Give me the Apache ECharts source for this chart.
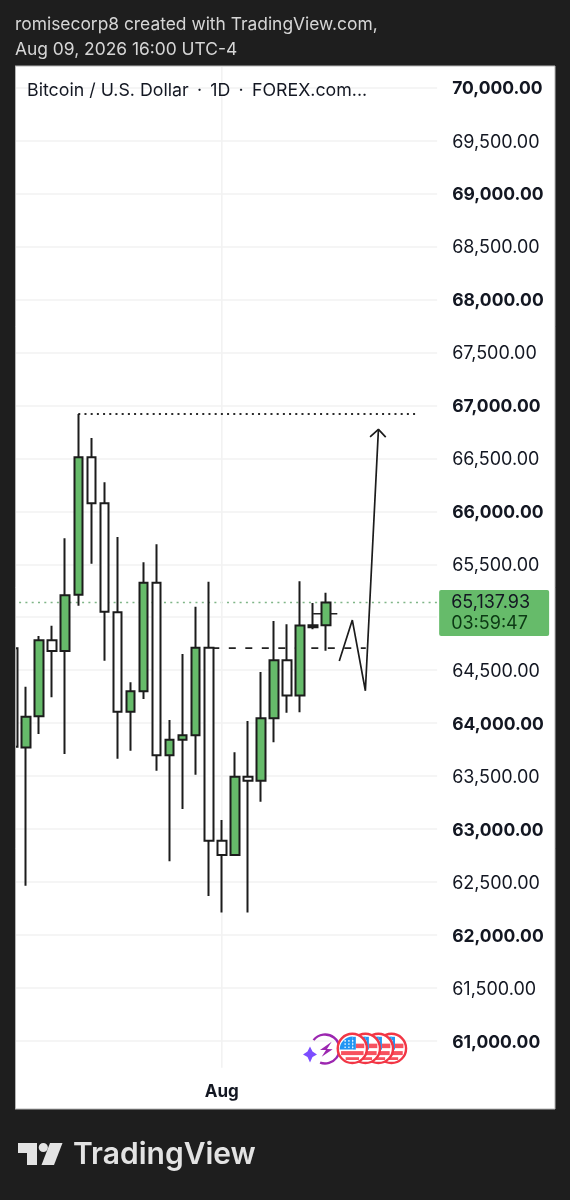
<!DOCTYPE html>
<html>
<head>
<meta charset="utf-8">
<style>html,body{margin:0;padding:0;background:#1e1e1e}#c{width:570px;height:1200px}</style>
<script src="https://cdn.jsdelivr.net/npm/echarts@6/dist/echarts.min.js"></script>
</head>
<body>
<div id="c"></div>
<script>
const headerLines = ['romisecorp8 created with TradingView.com,', 'Aug 09, 2026 16:00 UTC-4'];
const symbolTitle = 'Bitcoin / U.S. Dollar \u2009\u00b7\u2009 1D \u2009\u00b7\u2009 FOREX.com...';
const days = ['Jul 16','Jul 17','Jul 18','Jul 19','Jul 20','Jul 21','Jul 22','Jul 23','Jul 24','Jul 25','Jul 26','Jul 27','Jul 28','Jul 29','Jul 30','Jul 31','Aug','Aug 2','Aug 3','Aug 4','Aug 5','Aug 6','Aug 7','Aug 8','Aug 9','Aug 10','Aug 11','Aug 12','Aug 13','Aug 14','Aug 15','Aug 16','Aug 17'];
const opens  = [64706,63771,64064,64782,64681,65212,66510,66076,65046,64108,64300,65326,63696,63843,63885,64712,62890,62754,63494,63456,64045,64593,64262,64905,64925];
const closes = [63777,64060,64782,64681,65207,66510,66076,65052,64108,64300,65326,63696,63843,63885,64712,62890,62754,63494,63456,64045,64593,64262,64923,64925,65137.93];
const lows   = [63777,62464,63897,64244,63708,65109,65505,64589,63664,63739,64227,63550,62695,63189,63513,62367,62213,62754,62213,63258,63819,64098,64102,64886,64684];
const highs  = [64706,64344,64822,64920,65745,66919,66692,66274,65757,64385,65518,65688,64029,64652,65099,65335,63085,63724,64020,64482,64964,64933,65339,65134,65231];
const lastPrice = 65137.93;
const countdown = '03:59:47';
const resistance = [[5, 66919], [31.03, 66919]];
const support = [[15.27, 64708], [27.03, 64708]];
const shortLevel = [[23, 65033], [24.85, 65033]];
const pathDrawn = [[25, 64586], [26, 64973], [27, 64306], [28, 66774]];
const arrowHead = [[27.36, 66702], [28, 66774], [28.56, 66700]];
const monthLine = [[16, 70195], [16, 60745]];
const eventDays = [29, 28, 27, 26];

const GREEN = '#66bb6a', INK = '#1c1c1c', FONT = 'Inter, "Noto Sans", sans-serif';
const chart = echarts.init(document.getElementById('c'), null, {renderer:'canvas'});

const lineSeries = (data, color, width, type, z) => ({
  type:'line', xAxisIndex:1, yAxisIndex:0, data, symbol:'none', silent:true, z,
  lineStyle:{color, width, type}, animation:false
});

function flag(cx, cy) {
  const r = 12.2, kids = [];
  kids.push({type:'circle', shape:{cx, cy, r:14.6}, style:{fill:'#fff', stroke:'#f23645', lineWidth:2.4}});
  [[-2.5,4.5,3.3],[4.7,4,null],[10.2,2.8,null]].forEach(([dy,t,from]) => {
    const hw = Math.sqrt(Math.max(r*r-dy*dy, 0));
    kids.push({type:'line', shape:{x1:from===null?cx-hw:cx+from, y1:cy+dy, x2:cx+hw, y2:cy+dy}, style:{stroke:'#f7525f', lineWidth:t}});
  });
  kids.push({type:'sector', shape:{cx:cx+0.3, cy:cy+1.2, r:r+0.8, startAngle:Math.PI, endAngle:Math.PI*1.5}, style:{fill:'#2196f3'}});
  kids.push({type:'rect', shape:{x:cx+0.3, y:cy-11.6, width:3.2, height:12.8}, style:{fill:'#2196f3'}});
  for (let i=0;i<3;i++) for (let j=0;j<3;j++) {
    kids.push({type:'circle', shape:{cx:cx-7.2+i*3.8, cy:cy-7.5+j*3.2, r:0.8}, style:{fill:'#fff'}});
  }
  return kids;
}

const gridTop = 67, gridLeft = 6.5, gridWidth = 430.65, gridBottom = 1093.8;
const xOf = i => gridLeft + (i + 0.5) * gridWidth / days.length;
const flags = eventDays.flatMap(d => flag(xOf(d), 1048.4));
flags.forEach((e, k) => { e.z = 60 + k; e.silent = true; });

chart.setOption({
  animation:false,
  backgroundColor:'#1e1e1e',
  grid:{left:gridLeft, top:gridTop, width:gridWidth, height:gridBottom-gridTop, containLabel:false},
  xAxis:[
    {type:'category', data:days, boundaryGap:true, position:'bottom',
     axisLine:{show:false}, axisTick:{show:false}, splitLine:{show:false},
     axisLabel:{show:true, interval:(i,v)=>v==='Aug', margin:-10, color:'#131722', fontFamily:FONT, fontSize:17, fontWeight:700}},
    {type:'value', min:-0.5, max:days.length-0.5, show:false, splitLine:{show:false}}
  ],
  yAxis:[{type:'value', position:'right', min:60500, max:70195.5, interval:500,
    axisLine:{show:false}, axisTick:{show:false},
    splitLine:{show:true, showMinLine:false, showMaxLine:false, lineStyle:{color:'#f2f2f2', width:1.6}},
    axisLabel:{margin:15, align:'left', showMinLabel:false, showMaxLabel:false,
      formatter:v => { const s=v.toLocaleString('en-US',{minimumFractionDigits:2,maximumFractionDigits:2}); return v%1000===0?'{b|'+s+'}':'{n|'+s+'}'; },
      rich:{b:{fontFamily:FONT,fontSize:17.5,fontWeight:700,color:'#131722',padding:[3,0,0,0]}, n:{fontFamily:FONT,fontSize:18,fontWeight:400,color:'#131722',padding:[3,0,0,0]}}}
  }],
  series:[
    lineSeries(monthLine,'#f2f2f2',1.6,'solid',1),
    lineSeries(resistance,'#2a2a2a',2,[2,4.2],2),
    lineSeries(support,'#222',1.8,[7,9.5],2),
    lineSeries(shortLevel,'#222',1.4,'solid',2),
    {type:'candlestick', xAxisIndex:0, yAxisIndex:0, barWidth:9, z:5, silent:true,
     data:opens.map((o,i)=>[o,closes[i],lows[i],highs[i]]),
     itemStyle:{color:GREEN, color0:'#ffffff', borderColor:INK, borderColor0:INK, borderWidth:2},
     markLine:{silent:true, symbol:'none', animation:false, z:1,
       lineStyle:{color:'#7fb587', width:1.3, type:[2,4.3]},
       data:[{yAxis:lastPrice}],
       label:{show:true, position:'end', distance:2, offset:[0,10.5],
         formatter:'{p|65,137.93}\n{t|'+countdown+'}', backgroundColor:GREEN, borderRadius:2,
         padding:[2,19,2,12], align:'left',
         rich:{p:{fontFamily:FONT,fontSize:18,color:'#131722',lineHeight:21}, t:{fontFamily:FONT,fontSize:18,color:'#0c3a14',lineHeight:21}}}
     }},
    lineSeries(pathDrawn,INK,1.7,'solid',8),
    lineSeries(arrowHead,INK,1.7,'solid',8)
  ],
  graphic:{elements:[
    {type:'rect', z:-10, silent:true, shape:{x:15,y:66,width:540,height:1043}, style:{fill:'#fff', stroke:'#b5b5b5', lineWidth:1}},
    {type:'rect', z:50, silent:true, shape:{x:0,y:60,width:15,height:1060}, style:{fill:'#1e1e1e'}},
    {type:'line', z:51, silent:true, shape:{x1:15.5,y1:66,x2:15.5,y2:1109}, style:{stroke:'#b5b5b5', lineWidth:1}},
    {type:'text', z:52, silent:true, x:15, y:16, style:{text:headerLines[0], fill:'#d6d6d6', font:'400 17.4px '+FONT}},
    {type:'text', z:52, silent:true, x:15, y:41, style:{text:headerLines[1], fill:'#d6d6d6', font:'400 17.4px '+FONT}},
    {type:'text', z:52, silent:true, x:27, y:82, style:{text:symbolTitle, fill:'#131722', font:'400 17.8px '+FONT}},
    {type:'arc', z:55, silent:true, shape:{cx:325,cy:1049,r:14.5,startAngle:-Math.PI*0.79,endAngle:Math.PI*0.61}, style:{fill:'none',stroke:'#9c27b0',lineWidth:2.4}},
    {type:'polygon', z:55, silent:true, shape:{points:[[331.7,1041.7],[320,1050],[326,1050],[321.7,1056.7],[332.7,1049.3],[327,1049]]}, style:{fill:'#9c27b0'}},
    {type:'polygon', z:56, silent:true, shape:{points:[[310,1046.5],[312.5,1051.5],[317,1054.5],[312.5,1057],[310,1062.5],[307.5,1057],[303,1054.5],[307.5,1051.5]]}, style:{fill:'#7c4dff'}},
    ...flags,
    {type:'polygon', z:52, silent:true, shape:{points:[[18,1143],[37,1143],[37,1165],[27,1165],[27,1153],[18,1153]]}, style:{fill:'#e3e3e3'}},
    {type:'circle', z:52, silent:true, shape:{cx:43.3,cy:1147.5,r:4.6}, style:{fill:'#e3e3e3'}},
    {type:'polygon', z:52, silent:true, shape:{points:[[50,1143],[62.5,1143],[54,1165],[41.5,1165]]}, style:{fill:'#e3e3e3'}},
    {type:'text', z:52, silent:true, x:73, y:1140, style:{text:'TradingView', fill:'#e3e3e3', font:'600 30px '+FONT}}
  ]}
});
</script>
</body>
</html>
